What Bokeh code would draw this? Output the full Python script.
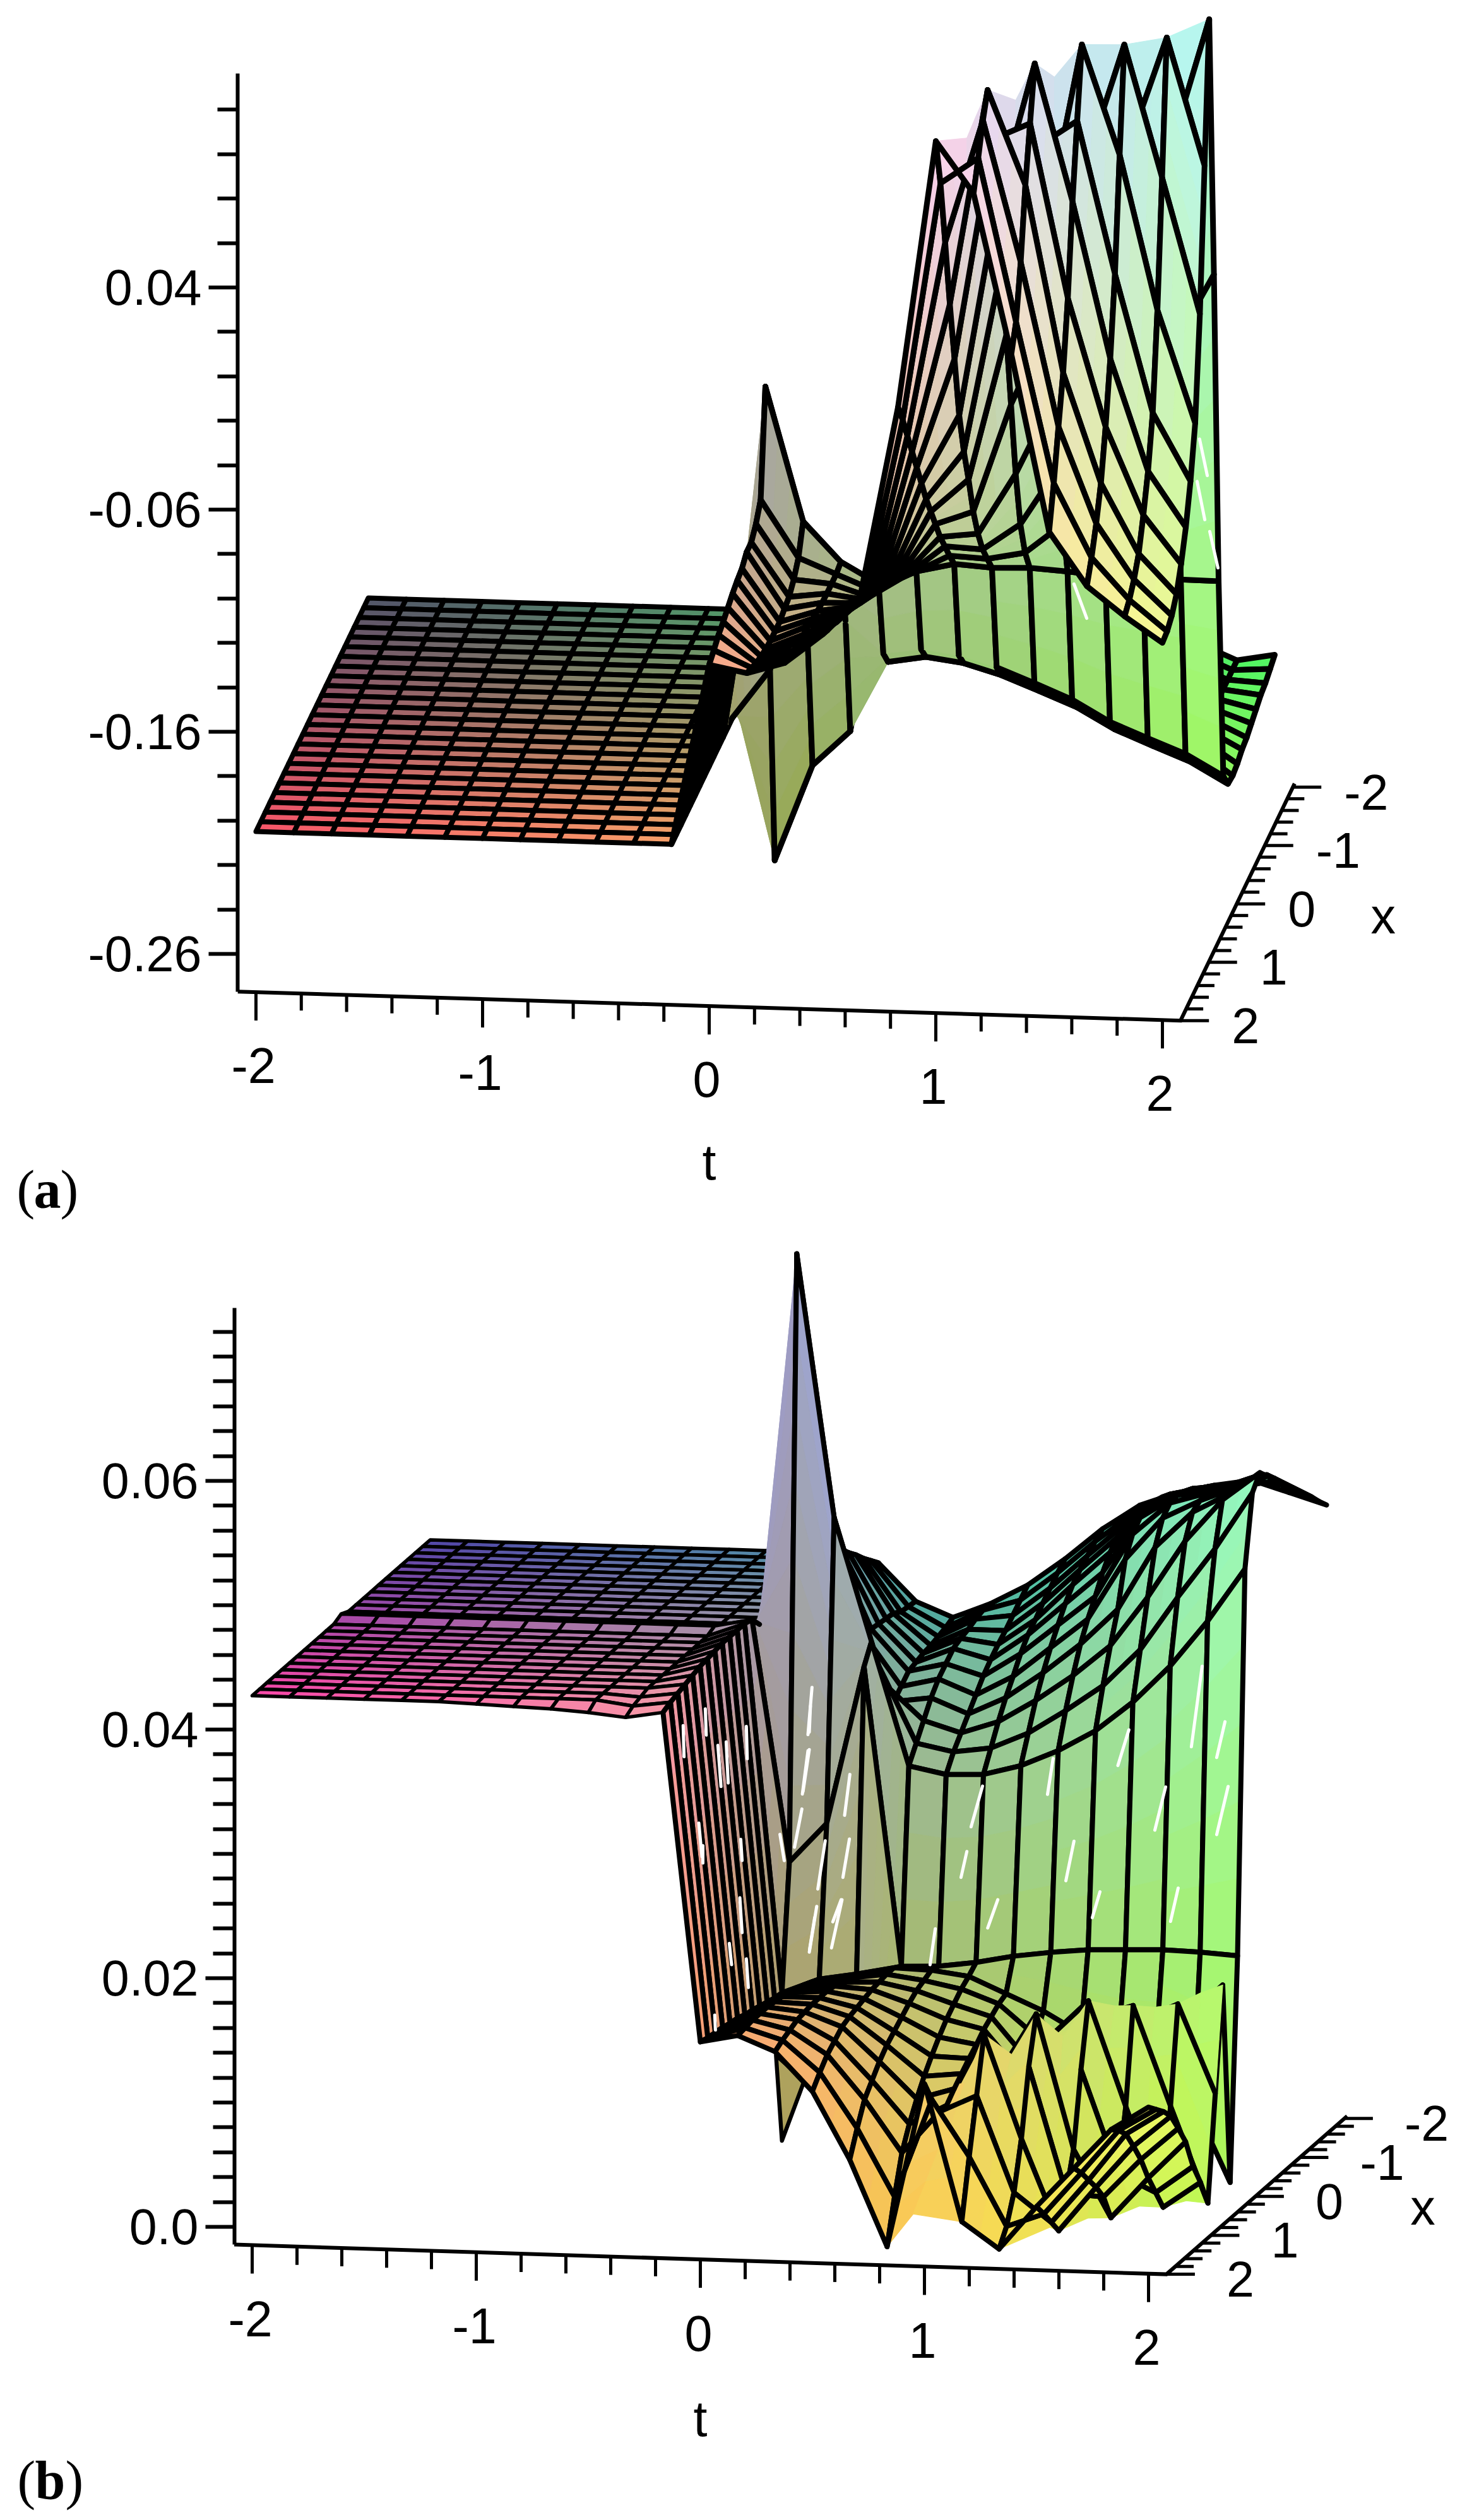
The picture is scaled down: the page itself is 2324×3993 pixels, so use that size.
from math import ceil
from bokeh.plotting import figure
from bokeh.layouts import column
from bokeh.models import Range1d, FixedTicker, ColumnDataSource
from bokeh.core.properties import value
from bokeh.embed import file_html
from bokeh.resources import INLINE

# ---------- data: z(t, x) on a 25 x 25 grid, one list per t, index = x step ----------
t_grid = [-2 + k / 6 for k in range(25)]
x_grid = [-2 + k / 6 for k in range(25)]

a_plate = [-0.204] * 25
a_c12 = [-0.204]*10 + [-0.272,-0.1817,-0.050,-0.0966,-0.103,-0.107,-0.107,-0.110,-0.111,-0.1125,-0.1145,-0.1165,-0.118,-0.1205,-0.1227]
a_c13 = [-0.205]*10 + [-0.2287,-0.170,-0.1102,-0.1222,-0.1276,-0.131,-0.1321,-0.1335,-0.1334,-0.1333,-0.1327,-0.1315,-0.1301,-0.1279,-0.1259]
a_c14 = [-0.205]*10 + [-0.2128,-0.1587,-0.1279,-0.129,-0.129,-0.129,-0.1287,-0.1281,-0.1271,-0.1261,-0.1256,-0.1247,-0.1239,-0.1222,-0.1208]
a_c15 = [-0.180]*10 + [-0.1811,-0.173,-0.1373,-0.1358,-0.1343,-0.1313,-0.1284,-0.1254,-0.1224,-0.1195,-0.1174,-0.1150,-0.112,-0.110,-0.1075]
a_c16 = [-0.176]*10 + [-0.1783,-0.1705,-0.1311,-0.1276,-0.1238,-0.120,-0.1165,-0.1129,-0.1091,-0.1053,-0.1018,-0.0989,-0.0958,-0.0929,-0.0896]
a_c17 = [-0.178]*10 + [-0.1806,-0.1727,-0.1272,-0.1191,-0.1105,-0.1019,-0.0918,-0.0817,-0.0717,-0.0602,-0.0487,-0.0372,-0.0257,-0.0142,-0.004]
a_c18 = [-0.183]*10 + [-0.1855,-0.1776,-0.1284,-0.120,-0.1114,-0.0999,-0.0856,-0.0667,-0.0498,-0.029,0.0007,0.0298,0.062,0.0929,0.1162]
a_c19 = [-0.190]*10 + [-0.1921,-0.1842,-0.1279,-0.1167,-0.0995,-0.0724,-0.0368,-0.0011,0.0345,0.0673,0.100,0.1266,0.1173,0.1047,0.0932]
a_c20 = [-0.197]*10 + [-0.1989,-0.1911,-0.129,-0.1033,-0.0734,-0.0378,0.0007,0.0449,0.089,0.1303,0.1077,0.0843,0.054,0.0314,0.0213]
a_c21 = [-0.206]*10 + [-0.2083,-0.2006,-0.1305,-0.083,-0.0331,0.0167,0.0736,0.1306,0.1006,0.0686,0.0295,0.0003,-0.0196,-0.0406,-0.0581]
a_c22 = [-0.213]*10 + [-0.2152,-0.2074,-0.1308,-0.0512,0.0185,0.0769,0.1267,0.0814,0.0321,-0.0016,-0.0279,-0.0489,-0.0626,-0.0736,-0.082]
a_c23 = [-0.220]*10 + [-0.2218,-0.214,-0.1311,-0.0194,0.073,0.126,0.0673,0.0121,-0.0298,-0.0517,-0.0671,-0.0801,-0.0873,-0.0921,-0.0951]
a_c24 = [-0.217,-0.219,-0.221,-0.222,-0.224,-0.226,-0.228,-0.229,-0.231,-0.232,-0.2313,-0.2234,-0.1313,0.0112,0.1304,0.0689,0.0065,-0.0383,-0.060,-0.0764,-0.0885,-0.0977,-0.103,-0.1057,-0.1065]

b_flat = [0.0428]*12 + [0.0431] + [0.0428]*12
b_c06 = [0.0428]*12 + [0.0431] + [0.0428]*11 + [0.0427]
b_c07 = [0.0428]*12 + [0.0431] + [0.0428]*11 + [0.0426]
b_c08 = [0.0428]*12 + [0.0431] + [0.0428]*11 + [0.0425]
b_c09 = [0.0428]*12 + [0.0431] + [0.0428]*11 + [0.0423]
b_c10 = [0.0428]*12 + [0.0431] + [0.0428]*9 + [0.0426,0.0424,0.0420]
b_c11 = [0.0428]*12 + [0.0437,0.0439,0.0439,0.0439,0.0439,0.0438,0.0437,0.0436,0.0434,0.0432,0.0430,0.0428,0.0425]
b_c12 = [0.0421,0.0428,0.0435,0.0443,0.0450,0.0458,0.0468,0.0486,0.0511,0.0557,0.0613,0.0727,0.0243,0.0143,0.0144,0.0146,0.0148,0.0150,0.0151,0.0154,0.0155,0.0157,0.0158,0.0159,0.0161]
b_c13 = [0.0391,0.0392,0.0393,0.0397,0.0398,0.0399,0.0400,0.0401,0.0401,0.0426,0.0467,0.0516,0.0275,0.0155,0.0158,0.0161,0.0163,0.0165,0.0167,0.0168,0.0169,0.0169,0.0169,0.0168,0.0167]
b_c14 = [0.0379,0.0376,0.0374,0.0372,0.0371,0.0369,0.0367,0.0360,0.0353,0.0371,0.0392,0.0417,0.0402,0.0160,0.0162,0.0164,0.0166,0.0167,0.0167,0.0167,0.0166,0.0165,0.0162,0.0159,0.0155]
b_c15 = [0.0391,0.0391,0.0389,0.0386,0.0384,0.0381,0.0374,0.0367,0.0357,0.0344,0.0331,0.0318,0.0162,0.0166,0.0166,0.0165,0.0164,0.0162,0.0160,0.0158,0.0155,0.0149,0.0143,0.0134,0.0124]
b_c16 = [0.0407,0.0400,0.0393,0.0386,0.0380,0.0373,0.0365,0.0355,0.0345,0.0335,0.0325,0.0312,0.0163,0.0165,0.0162,0.0159,0.0154,0.0148,0.0142,0.0136,0.0128,0.0118,0.0108,0.0090,0.0070]
b_c17 = [0.0429,0.0423,0.0416,0.0409,0.0401,0.0394,0.0384,0.0371,0.0359,0.0345,0.0329,0.0313,0.0167,0.0161,0.0156,0.0149,0.0142,0.0133,0.0123,0.0112,0.0099,0.0084,0.0066,0.0036,0.0001]
b_c18 = [0.0454,0.0449,0.0443,0.0437,0.0430,0.0420,0.0408,0.0395,0.0380,0.0363,0.0342,0.0321,0.0173,0.0148,0.0145,0.0140,0.0135,0.0128,0.0122,0.0115,0.0108,0.0100,0.0100,0.0115,0.0133]
b_c19 = [0.0474,0.0472,0.0469,0.0464,0.0457,0.0446,0.0432,0.0419,0.0404,0.0384,0.0361,0.0334,0.0177,0.0135,0.0120,0.0105,0.0100,0.0103,0.0108,0.0116,0.0129,0.0158,0.0114,0.0070,0.0023]
b_c20 = [0.0485,0.0489,0.0492,0.0494,0.0494,0.0491,0.0483,0.0468,0.0433,0.0409,0.0382,0.0351,0.0180,0.0118,0.0116,0.0116,0.0122,0.0137,0.0152,0.0165,0.0128,0.0075,0.0037,0.0015,0.0002]
b_c21 = [0.0492,0.0496,0.0500,0.0505,0.0508,0.0510,0.0509,0.0502,0.0484,0.0449,0.0412,0.0375,0.0181,0.0107,0.0115,0.0130,0.0148,0.0166,0.0116,0.0057,0.0027,0.0002,0.0014,0.0026,0.0037]
b_c22 = [0.0497,0.0501,0.0505,0.0509,0.0512,0.0515,0.0518,0.0517,0.0513,0.0495,0.0455,0.0405,0.0182,0.0102,0.0121,0.0141,0.0158,0.0082,0.0033,0.0003,0.0025,0.0038,0.0049,0.0060,0.0069]
b_c23 = [0.0488,0.0500,0.0510,0.0518,0.0523,0.0526,0.0528,0.0529,0.0529,0.0529,0.0495,0.0442,0.0181,0.0066,0.0137,0.0155,0.0078,0.0002,0.0019,0.0036,0.0056,0.0072,0.0087,0.0095,0.0101]
b_c24 = [0.0479,0.0487,0.0496,0.0503,0.0511,0.0520,0.0528,0.0535,0.0544,0.0552,0.0541,0.0485,0.0179,0.0002,0.0166,0.0084,0.0001,0.0023,0.0041,0.0066,0.0082,0.0097,0.0106,0.0113,0.0120]

# fill seen between the grid lines: upper and lower boundary of the surface
a_band_t = [1.0,1.1,1.12,1.167,1.25,1.333,1.40,1.5,1.667,1.833,2.0]
a_band_x = [2.0,1.7,1.55,1.5,1.17,1.167,1.0,0.833,0.667,0.5,0.333]
a_band_top = [0.1162,0.110,0.1156,0.1266,0.1136,0.1303,0.120,0.1306,0.1267,0.126,0.1304]
a_band_low = [0.056,0.05,0.055,0.066,0.053,0.07,0.06,0.07,0.066,0.066,0.07]

b_top_t = [1.0,1.1,1.167,1.25,1.333,1.42,1.5,1.6,1.667,1.75,1.833,1.92,2.0]
b_top_x = [2.0,1.6,1.5,1.3,1.167,1.0,0.833,0.75,0.667,0.6,0.5,0.42,0.333]
b_top_z = [0.0133,0.0121,0.0158,0.0136,0.0165,0.0142,0.0166,0.0160,0.0158,0.0155,0.0155,0.0162,0.0166]
b_low_t = [0.833,0.95,1.167,1.22,1.333,1.5,1.5,1.6,1.667,1.75,1.833,1.92,2.0]
b_low_x = [2.0,2.0,2.0,2.0,2.0,1.7,1.5,1.35,1.167,0.95,0.833,0.75,0.667]
b_low_z = [0.0001,0.0028,0.0023,0.0036,0.0002,0.0011,0.0002,0.0008,0.0003,0.0006,0.0002,0.0005,0.0001]

b_tip_t = [0.0,0.0,0.1]
b_tip_x = [0.3,0.167,0.167]
b_tip_z = [0.0097,0.0024,0.0073]

# white slivers of the rendered surface (pairs of ends, on the sheet at x = 0)
a_sliver_t = [1.916,1.95,1.905,1.939,1.961,1.997,1.362,1.418]
a_sliver_z = [-0.0676,-0.0839,-0.0867,-0.1038,-0.1091,-0.1253,-0.1346,-0.1498]
b_sliver_t = [0.101,0.083,0.083,0.058,0.27,0.2465,0.862,0.811,1.177,1.152,1.515,1.466,1.842,1.794,1.944,1.907,1.679,1.631,1.958,1.907,
              0.792,0.766,1.27,1.234,1.735,1.701,1.386,1.352,0.93,0.885,0.231,0.194,0.651,0.628,0.113,0.09,
              0.094,0.089,0.089,0.061,0.056,0.023,-0.042,-0.023,0.122,0.089,0.16,0.127,0.235,0.188,0.268,0.239]
b_sliver_z = [0.0384,0.0346,0.0333,0.0298,0.0315,0.0282,0.0309,0.0276,0.0333,0.0304,0.0358,0.0329,0.0411,0.0346,0.0367,0.0338,0.0313,0.0278,0.0315,0.0276,
              0.0256,0.0235,0.0267,0.0235,0.0232,0.0205,0.0227,0.0206,0.0218,0.0195,0.0214,0.0196,0.0193,0.0164,0.0199,0.0173,
              0.0369,0.0348,0.0334,0.03,0.0286,0.0255,0.0265,0.0244,0.0208,0.0171,0.0261,0.0222,0.0214,0.0175,0.0263,0.0232]
b_wall_t = [-0.474,-0.470,-0.375,-0.371,-0.319,-0.305,-0.282,-0.273,-0.192,-0.188,-0.386,-0.386,-0.217,-0.211,-0.221,-0.211,-0.268,-0.258,-0.192,-0.183,-0.333,-0.33,-0.404,-0.39]
b_wall_z = [0.0350,0.0325,0.0364,0.0343,0.0335,0.0302,0.0338,0.0305,0.0351,0.0325,0.0254,0.0240,0.0260,0.0243,0.0213,0.0185,0.0176,0.0159,0.0164,0.0141,0.0118,0.0106,0.0272,0.0245]

t_ticks = [-2.0,-1.8,-1.6,-1.4,-1.2,-1.0,-0.8,-0.6,-0.4,-0.2,0.0,0.2,0.4,0.6,0.8,1.0,1.2,1.4,1.6,1.8,2.0]
x_ticks = [2.0,1.8,1.6,1.4,1.2,1.0,0.8,0.6,0.4,0.2,0.0,-0.2,-0.4,-0.6,-0.8,-1.0,-1.2,-1.4,-1.6,-1.8,-2.0]
t_labels = [-2,-1,0,1,2]
x_labels = [-2,-1,0,1,2]

a_z_major = [0.04,-0.06,-0.16,-0.26]
a_z_minor = [0.12,0.10,0.08,0.06,0.02,0.0,-0.02,-0.04,-0.08,-0.10,-0.12,-0.14,-0.18,-0.20,-0.22,-0.24]
a_z_names = {0.04:"0.04",-0.06:"-0.06",-0.16:"-0.16",-0.26:"-0.26"}
b_z_major = [0.06,0.04,0.02,0.0]
b_z_minor = [0.072,0.07,0.068,0.066,0.064,0.062,0.058,0.056,0.054,0.052,0.05,0.048,0.046,0.044,0.042,
             0.038,0.036,0.034,0.032,0.03,0.028,0.026,0.024,0.022,0.018,0.016,0.014,0.012,0.01,0.008,0.006,0.004,0.002]
b_z_names = {0.06:"0.06",0.04:"0.04",0.02:"0.02",0.0:"0.0"}

# ---------- view of each panel (projection of the 3-D box on the page) ----------
VIEW_A = dict(ox=405, oy=1574, tu=(359,11.06), xu=(-44.5,92.5), zs=3520, z0=-0.277, yref=455, zref=0.04,
              page_top=0, height=1968, axis_x=376, z_bounds=(-0.277,0.1363), floor=-0.2763,
              rgb=lambda t,x,z:(80+42.5*(x+2), 85+41*(t+2), 75+170*(z+0.277)/0.407), lw=9, lw_plate=8,
              t_off=(-4,116), tname=247, x_off=(81,8), xname=(232,19), major=(46,32), tmaj=(45,27))
VIEW_B = dict(ox=399, oy=3557, tu=(355,11.3), xu=(-70.5,61.7), zs=19700, z0=-0.0014, yref=2346, zref=0.06,
              page_top=1968, height=2025, axis_x=371, z_bounds=(-0.0014,0.0739), floor=-0.0014,
              rgb=lambda t,x,z:(80+42.5*(x+2), 70+45*(t+2), 80+2050*z), lw=8, lw_plate=5.5,
              t_off=(-3,117), tname=252, x_off=(95,8), xname=(265,17), major=(46,34), tmaj=(45,29))

LABEL_FONT = value("Liberation Sans")
SERIF = value("Liberation Serif")


def hexcol(c):
    return "#%02x%02x%02x" % tuple(int(max(0, min(255, round(v)))) for v in c)


def panel(view, grid, hidden, band_top, band_low, z_major, z_minor, z_names, tag, tag_y, tag_x,
          tip=None, band_stage=13, rear=None, slivers_early=None, slivers_late=None):
    def sxy(t, x, z):
        tu, xu = view["tu"], view["xu"]
        px = view["ox"] + tu[0]*(t+2) + xu[0]*(x-2)
        py = view["oy"] + tu[1]*(t+2) + xu[1]*(x-2) - view["zs"]*(z-view["z0"])
        return px, view["zref"] + (view["yref"]-py)/view["zs"]

    def dy(px_down):
        return -px_down/view["zs"]

    top_val = view["zref"] + (view["yref"]-view["page_top"])/view["zs"]
    bot_val = view["zref"] + (view["yref"]-(view["page_top"]+view["height"]))/view["zs"]
    p = figure(width=2324, height=view["height"], x_range=Range1d(0, 2324), y_range=Range1d(bot_val, top_val),
               toolbar_location=None, output_backend="svg", min_border=0, min_border_left=0, min_border_right=0,
               min_border_top=0, min_border_bottom=0, x_axis_location=None, y_axis_location="left",
               outline_line_color=None, background_fill_color="white", border_fill_color="white")
    p.grid.visible = False

    ax = p.yaxis[0]
    ax.fixed_location = view["axis_x"]
    ax.bounds = view["z_bounds"]
    ax.ticker = FixedTicker(ticks=z_major, minor_ticks=z_minor)
    ax.major_label_overrides = z_names
    ax.major_tick_out, ax.minor_tick_out = view["major"]
    ax.major_tick_in = 0
    ax.minor_tick_in = 0
    ax.axis_line_width = 6
    ax.major_tick_line_width = 6
    ax.minor_tick_line_width = 6
    ax.axis_line_color = "black"
    ax.major_tick_line_color = "black"
    ax.minor_tick_line_color = "black"
    ax.major_label_text_font = "Liberation Sans"
    ax.major_label_text_font_size = "79px"
    ax.major_label_text_color = "black"
    ax.major_label_standoff = 11

    X, Y, FC, FA, LC, LA, LW = [], [], [], [], [], [], []

    def emit(pts, fc, fa, lc, la, lw):
        xs, ys = zip(*[sxy(*q) for q in pts])
        X.append(list(xs)); Y.append(list(ys)); FC.append(fc); FA.append(fa); LC.append(lc); LA.append(la); LW.append(lw)

    def add_fill(c):
        cols = [view["rgb"](*q) for q in c]
        d1 = max(sum(abs(cols[0][k]-cols[3][k]) for k in range(3)), sum(abs(cols[1][k]-cols[2][k]) for k in range(3)))
        d2 = max(sum(abs(cols[0][k]-cols[1][k]) for k in range(3)), sum(abs(cols[3][k]-cols[2][k]) for k in range(3)))
        if d1 >= d2:
            a, b, d, e, delta = c[0], c[3], c[1], c[2], d1
        else:
            a, b, d, e, delta = c[0], c[1], c[3], c[2], d2
        n = max(1, min(14, ceil(delta/14)))
        lerp = lambda u, v, f: tuple(u[k]+(v[k]-u[k])*f for k in range(3))
        for k in range(n):
            f0, f1 = k/n, (k+1)/n
            q = [lerp(a, b, f0), lerp(d, e, f0), lerp(d, e, f1), lerp(a, b, f1)]
            m = tuple(sum(r[w] for r in q)/4 for w in range(3))
            col = hexcol(view["rgb"](*m))
            emit(q, col, 1.0, col, 1.0, 1.2)

    def draw_band():
        tt, tx, tz = band_top
        lt, lx, lz = band_low
        for k in range(len(tt)-1):
            add_fill([(tt[k],tx[k],tz[k]), (tt[k+1],tx[k+1],tz[k+1]), (lt[k+1],lx[k+1],lz[k+1]), (lt[k],lx[k],lz[k])])
        if tip:
            q = list(zip(*tip))
            col = hexcol(view["rgb"](*tuple(sum(r[w] for r in q)/3 for w in range(3))))
            emit(q, col, 1.0, "black", 1.0, view["lw"]*0.8)

    def draw_slivers(sl):
        st, sz = sl
        for k in range(0, len(st), 2):
            emit([(st[k],0.0,sz[k]), (st[k+1],0.0,sz[k+1])], "white", 0.0, "white", 1.0, 5)

    def draw_quad(i, j):
        lw = view["lw_plate"] if i < 11 else view["lw"]
        c = [(t_grid[i],x_grid[j],grid[i][j]), (t_grid[i+1],x_grid[j],grid[i+1][j]),
             (t_grid[i+1],x_grid[j+1],grid[i+1][j+1]), (t_grid[i],x_grid[j+1],grid[i][j+1])]
        add_fill(c)
        if (i, j) in hidden or (i, j+1) in hidden:
            if (i, j) not in hidden:
                emit([c[0], c[1]], "black", 0.0, "black", 1.0, lw)
            if (i, j+1) not in hidden:
                emit([c[3], c[2]], "black", 0.0, "black", 1.0, lw)
            emit([c[1], c[2]], "black", 0.0, "black", 1.0, lw)
            emit([c[0], c[3]], "black", 0.0, "black", 1.0, lw)
        else:
            emit(c, "black", 0.0, "black", 1.0, lw)

    is_rear = lambda i, j: bool(rear) and j >= band_stage and i in rear and j < rear[i]
    for j in range(24):
        if j == band_stage:
            if slivers_early:
                draw_slivers(slivers_early)
            if rear:
                for jj in range(band_stage, 24):
                    for i in range(24):
                        if is_rear(i, jj):
                            draw_quad(i, jj)
            draw_band()
        for i in range(24):
            if not is_rear(i, j):
                draw_quad(i, j)
    if slivers_late:
        draw_slivers(slivers_late)

    src = ColumnDataSource(dict(xs=X, ys=Y, fc=FC, fa=FA, lc=LC, la=LA, lw=LW))
    p.patches("xs", "ys", source=src, fill_color="fc", fill_alpha="fa", line_color="lc", line_alpha="la",
              line_width="lw", line_join="round")

    # t axis and x axis, slanted in the box
    fl = view["floor"]
    a0, b0 = sxy(-2.08, 2, fl), sxy(2.08, 2, fl)
    a1 = sxy(2.08, -2.06, fl)
    p.line([a0[0], b0[0], a1[0]], [a0[1], b0[1], a1[1]], line_color="black", line_width=6, line_join="miter")
    x0, y0, x1, y1 = [], [], [], []
    for t in t_ticks:
        px, py = sxy(t, 2, fl)
        L = view["tmaj"][0] if abs(t-round(t)) < 1e-6 else view["tmaj"][1]
        x0.append(px); y0.append(py); x1.append(px); y1.append(py+dy(L))
    for x in x_ticks:
        px, py = sxy(2.08, x, fl)
        L = view["tmaj"][0] if abs(x-round(x)) < 1e-6 else view["tmaj"][1]
        x0.append(px); y0.append(py); x1.append(px+L); y1.append(py)
    p.segment(x0, y0, x1, y1, line_color="black", line_width=5)

    tx, ty, tt = [], [], []
    for t in t_labels:
        px, py = sxy(t, 2, fl)
        tx.append(px+view["t_off"][0]); ty.append(py+dy(view["t_off"][1])); tt.append(str(t))
    px, py = sxy(0, 2, fl)
    tx.append(px); ty.append(py+dy(view["tname"])); tt.append("t")
    p.text(tx, ty, text=tt, text_font=LABEL_FONT, text_font_size=value("79px"), text_align="center",
           text_baseline="middle", text_color="black")

    lx, ly, ls = [], [], []
    for x in x_labels:
        px, py = sxy(2.08, x, fl)
        lx.append(px+view["x_off"][0]); ly.append(py+dy(view["x_off"][1])); ls.append(str(x))
    p.text(lx, ly, text=ls, text_font=LABEL_FONT, text_font_size=value("79px"), text_align="left",
           text_baseline="middle", text_color="black")
    px, py = sxy(2.08, 0, fl)
    p.text([px+view["xname"][0]], [py+dy(view["xname"][1])], text=["x"], text_font=LABEL_FONT,
           text_font_size=value("79px"), text_align="center", text_baseline="middle", text_color="black")

    # panel tag
    vy = view["zref"] + (view["yref"]-tag_y)/view["zs"]
    p.text([tag_x[0]], [vy], text=["("], text_font=SERIF, text_font_size=value("86px"), text_baseline="middle", text_color="black")
    p.text([tag_x[1]], [vy], text=[tag], text_font=SERIF, text_font_style="bold", text_font_size=value("86px"),
           text_baseline="middle", text_color="black")
    p.text([tag_x[2]], [vy], text=[")"], text_font=SERIF, text_font_size=value("86px"),
           text_baseline="middle", text_color="black")
    return p


grid_a = [a_plate]*12 + [a_c12,a_c13,a_c14,a_c15,a_c16,a_c17,a_c18,a_c19,a_c20,a_c21,a_c22,a_c23,a_c24]
grid_b = [b_flat]*6 + [b_c06,b_c07,b_c08,b_c09,b_c10,b_c11,b_c12,b_c13,b_c14,b_c15,b_c16,b_c17,b_c18,b_c19,b_c20,b_c21,b_c22,b_c23,b_c24]

fig_a = panel(VIEW_A, grid_a, {(11,12),(11,10),(14,10),(12,11),(13,11),(14,11),(15,11),(16,11),(17,11)},
              (a_band_t,a_band_x,a_band_top), (a_band_t,a_band_x,a_band_low),
              a_z_major, a_z_minor, a_z_names, "a", 1884, (26,53,95), slivers_late=(a_sliver_t,a_sliver_z))
fig_b = panel(VIEW_B, grid_b, {(11,11)}, (b_top_t,b_top_x,b_top_z), (b_low_t,b_low_x,b_low_z),
              b_z_major, b_z_minor, b_z_names, "b", 3929, (27,55,103), tip=(b_tip_t,b_tip_x,b_tip_z),
              rear={18:22,19:21,20:19,21:17,22:16,23:15}, slivers_early=(b_sliver_t,b_sliver_z),
              slivers_late=(b_wall_t,b_wall_z))

page = column(fig_a, fig_b, spacing=0)
open("out.html", "w").write(file_html(page, INLINE))
